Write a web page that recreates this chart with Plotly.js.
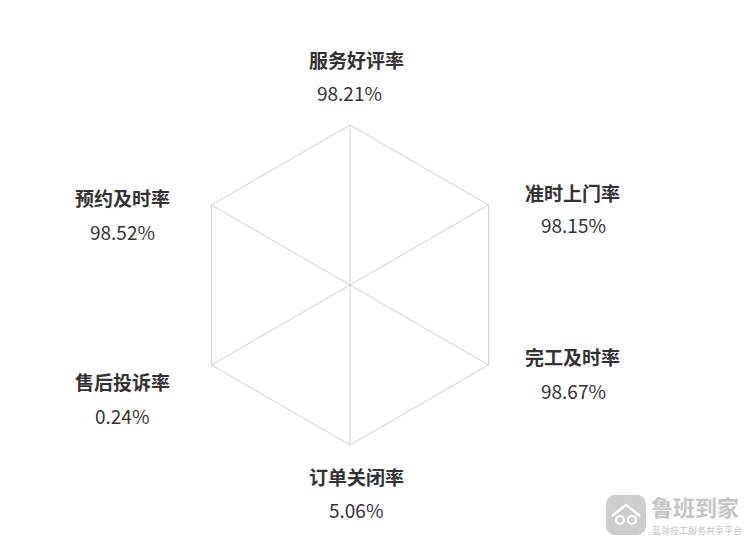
<!DOCTYPE html>
<html>
<head>
<meta charset="utf-8">
<script src="https://cdn.plot.ly/plotly-3.0.1.min.js"></script>
<style>html,body{margin:0;padding:0;background:#fff;}#chart{width:752px;height:541px;}</style>
</head>
<body>
<div id="chart"></div>
<script>
// Data
const categories = ['服务好评率', '准时上门率', '完工及时率', '订单关闭率', '售后投诉率', '预约及时率'];
const values = [98.21, 98.15, 98.67, 5.06, 0.24, 98.52];
const valueLabels = ['98.21%', '98.15%', '98.67%', '5.06%', '0.24%', '98.52%'];

const W = 752, H = 541;
// label centre positions (px) for name and value of each indicator
const namePos = [[356, 59], [572, 192], [572, 356], [356, 476], [122, 381], [122, 198]];
const valuePos = [[349, 93], [573, 225], [573, 390], [356, 509], [122, 415], [122, 231]];

const font = "'Noto Sans CJK SC', 'Noto Sans', sans-serif";
const annotations = [];
categories.forEach((c, i) => {
  annotations.push({
    xref: 'paper', yref: 'paper', x: namePos[i][0] / W, y: 1 - namePos[i][1] / H,
    xanchor: 'center', yanchor: 'middle', showarrow: false,
    text: '<b>' + c + '</b>', font: {family: font, size: 19, color: '#333333'}
  });
  annotations.push({
    xref: 'paper', yref: 'paper', x: valuePos[i][0] / W, y: 1 - valuePos[i][1] / H,
    xanchor: 'center', yanchor: 'middle', showarrow: false,
    text: valueLabels[i], font: {family: font, size: 19, color: '#333333'}
  });
});
// watermark
annotations.push({
  xref: 'paper', yref: 'paper', x: 650 / W, y: 1 - 506 / H, xanchor: 'left', yanchor: 'middle',
  showarrow: false, borderpad: 0, text: '<b>鲁班到家</b>', font: {family: font, size: 22, color: '#c4c4c4'}
});
annotations.push({
  xref: 'paper', yref: 'paper', x: 651 / W, y: 1 - 530 / H, xanchor: 'left', yanchor: 'middle',
  showarrow: false, borderpad: 0, text: '蓝领技工服务共享平台', font: {family: font, size: 9, color: '#c4c4c4'}
});

const cx = 350, cy = 285, R = 160;
const trace = {
  type: 'scatterpolar',
  r: values.concat([values[0]]),
  theta: categories.concat([categories[0]]),
  mode: 'lines',
  line: {color: 'rgba(0,0,0,0)', width: 0},
  hoverinfo: 'skip',
  showlegend: false
};

const layout = {
  width: W, height: H,
  margin: {l: 0, r: 0, t: 0, b: 0},
  paper_bgcolor: '#ffffff',
  showlegend: false,
  polar: {
    domain: {x: [(cx - R) / W, (cx + R) / W], y: [1 - (cy + R) / H, 1 - (cy - R) / H]},
    bgcolor: 'rgba(0,0,0,0)',
    gridshape: 'linear',
    radialaxis: {range: [0, 100], visible: false, showgrid: false},
    angularaxis: {
      rotation: 90, direction: 'clockwise',
      showgrid: true, gridcolor: '#d0d0d0', gridwidth: 1,
      showline: true, linecolor: '#d0d0d0', linewidth: 1,
      ticks: '', showticklabels: false
    }
  },
  shapes: [
    {type: 'path', xref: 'paper', yref: 'paper', layer: 'above',
     path: roundRect(606, 495, 40, 40, 9), fillcolor: '#cdcdcd', line: {width: 0}},
    {type: 'path', xref: 'paper', yref: 'paper', layer: 'above',
     path: pxPath([[612, 516], [626, 505], [640, 516]]), line: {color: '#ffffff', width: 2.5}},
    {type: 'circle', xref: 'paper', yref: 'paper', layer: 'above',
     x0: 616 / W, x1: 624 / W, y0: 1 - 524 / H, y1: 1 - 516 / H, line: {color: '#ffffff', width: 2}},
    {type: 'circle', xref: 'paper', yref: 'paper', layer: 'above',
     x0: 628 / W, x1: 636 / W, y0: 1 - 524 / H, y1: 1 - 516 / H, line: {color: '#ffffff', width: 2}}
  ],
  annotations: annotations
};

function P(x, y) { return (x / W).toFixed(5) + ',' + (1 - y / H).toFixed(5); }
function pxPath(pts) { return pts.map((p, i) => (i ? 'L' : 'M') + P(p[0], p[1])).join(' '); }
function roundRect(x, y, w, h, r) {
  const pts = [];
  const corners = [[x + w - r, y + r, -90], [x + w - r, y + h - r, 0], [x + r, y + h - r, 90], [x + r, y + r, 180]];
  corners.forEach(c => {
    for (let k = 0; k <= 6; k++) {
      const a = (c[2] + k * 15) * Math.PI / 180;
      pts.push([c[0] + r * Math.cos(a), c[1] + r * Math.sin(a)]);
    }
  });
  return pxPath(pts) + ' Z';
}

Plotly.newPlot('chart', [trace], layout, {displayModeBar: false, staticPlot: true});
</script>
</body>
</html>
